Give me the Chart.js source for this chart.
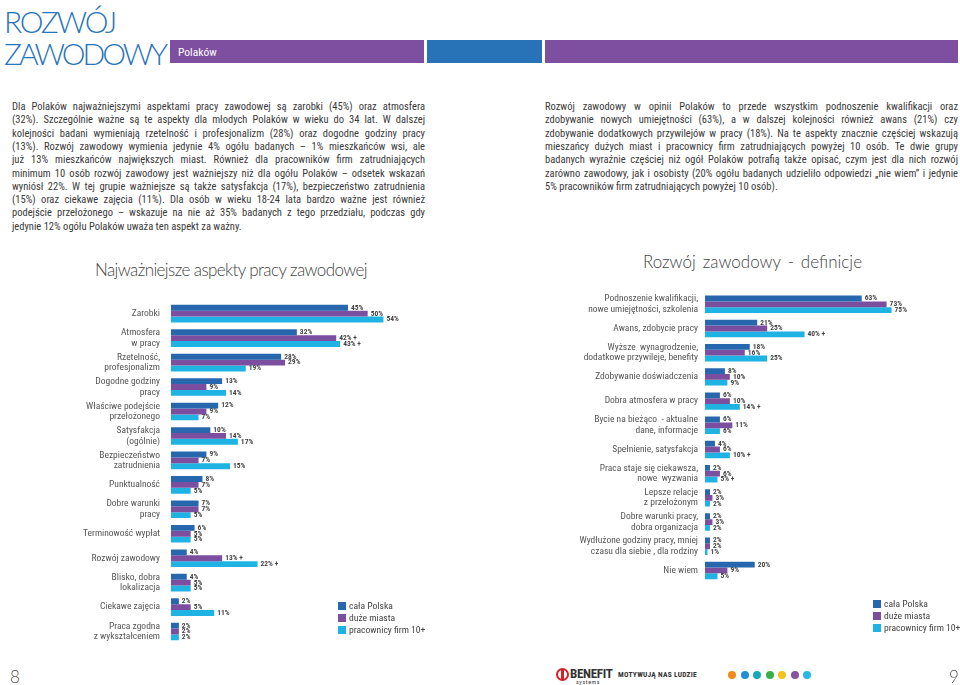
<!DOCTYPE html>
<html lang="pl">
<head>
<meta charset="utf-8">
<script src="https://cdn.jsdelivr.net/npm/chart.js@4.4.0/dist/chart.umd.min.js"></script>
<style>
  body { margin: 0; width: 960px; height: 685px; background: #fff; position: relative; overflow: hidden;
         font-family: "Liberation Sans Narrow", "Roboto Condensed", Roboto, sans-serif; color: #3a3a3a; }
  .abs { position: absolute; white-space: nowrap; }
  .tytul { color: #2a74b9; font-family: Lato, Roboto, sans-serif; font-weight: 300; font-size: 30px; line-height: 30px; left: 4px; }
  .pasek { position: absolute; top: 40px; height: 23px; }
  .akapit div { position: absolute; white-space: nowrap; font-size: 10.5px; line-height: 13.3px; }
  .tytulWykresu { position: absolute; font-family: Lato, Roboto, sans-serif; font-weight: 300; font-size: 17px; color: #444; white-space: nowrap; }
  .legenda { position: absolute; font-size: 9.6px; color: #444; }
  .legenda div { position: relative; height: 12px; line-height: 12px; padding-left: 11px; white-space: nowrap; }
  .legenda span { position: absolute; left: 0; top: 2px; width: 8px; height: 8px; }
  canvas { position: absolute; }
  .strona { position: absolute; top: 666px; font-family: Lato, Roboto, sans-serif; font-weight: 300; font-size: 17px; color: #555; }
</style>
</head>
<body>

<div class="abs tytul" id="t1" style="top:6px">ROZWÓJ</div>
<div class="abs tytul" id="t2" style="top:38px">ZAWODOWY</div>
<div class="pasek" style="left:170px; width:254px; background:#7e4fa0;"></div>
<div class="abs" style="left:178px; top:45px; font-size:11.5px; color:#fff; line-height:14px;">Polaków</div>
<div class="pasek" style="left:427px; width:115px; background:#2873b8;"></div>
<div class="pasek" style="left:545px; width:413px; background:#7e4fa0;"></div>

<div class="akapit" id="akapitLewy" style="position:absolute; left:12px; top:100px;" data-szer="413">
  <div class="j">Dla Polaków najważniejszymi aspektami pracy zawodowej są zarobki (45%) oraz atmosfera</div>
  <div class="j">(32%). Szczególnie ważne są te aspekty dla młodych Polaków w wieku do 34 lat. W dalszej</div>
  <div class="j">kolejności badani wymieniają rzetelność i profesjonalizm (28%) oraz dogodne godziny pracy</div>
  <div class="j">(13%). Rozwój zawodowy wymienia jedynie 4% ogółu badanych – 1% mieszkańców wsi, ale</div>
  <div class="j">już 13% mieszkańców największych miast. Również dla pracowników firm zatrudniających</div>
  <div class="j">minimum 10 osób rozwój zawodowy jest ważniejszy niż dla ogółu Polaków – odsetek wskazań</div>
  <div class="j">wyniósł 22%. W tej grupie ważniejsze są także satysfakcja (17%), bezpieczeństwo zatrudnienia</div>
  <div class="j">(15%) oraz ciekawe zajęcia (11%). Dla osób w wieku 18-24 lata bardzo ważne jest również</div>
  <div class="j">podejście przełożonego – wskazuje na nie aż 35% badanych z tego przedziału, podczas gdy</div>
  <div>jedynie 12% ogółu Polaków uważa ten aspekt za ważny.</div>
</div>

<div class="akapit" id="akapitPrawy" style="position:absolute; left:545px; top:100px;" data-szer="413">
  <div class="j">Rozwój zawodowy w opinii Polaków to przede wszystkim podnoszenie kwalifikacji oraz</div>
  <div class="j">zdobywanie nowych umiejętności (63%), a w dalszej kolejności również awans (21%) czy</div>
  <div class="j">zdobywanie dodatkowych przywilejów w pracy (18%). Na te aspekty znacznie częściej wskazują</div>
  <div class="j">mieszańcy dużych miast i pracownicy firm zatrudniających powyżej 10 osób. Te dwie grupy</div>
  <div class="j">badanych wyraźnie częściej niż ogół Polaków potrafią także opisać, czym jest dla nich rozwój</div>
  <div class="j">zarówno zawodowy, jak i osobisty (20% ogółu badanych udzieliło odpowiedzi „nie wiem” i jedynie</div>
  <div>5% pracowników firm zatrudniających powyżej 10 osób).</div>
</div>

<div class="tytulWykresu" id="tw1" style="left:95px; top:259px;">Najważniejsze aspekty pracy zawodowej</div>
<div class="tytulWykresu" id="tw2" style="left:643px; top:251px;">Rozwój zawodowy - definicje</div>

<canvas id="wykresAspekty" width="480" height="380" style="left:0; top:280px;"></canvas>
<canvas id="wykresDefinicje" width="430" height="320" style="left:530px; top:280px;"></canvas>

<div class="legenda" style="left:338px; top:600px;">
  <div><span style="background:#2767ad"></span>cała Polska</div>
  <div><span style="background:#7c4e9f"></span>duże miasta</div>
  <div><span style="background:#1fb3e3"></span>pracownicy firm 10+</div>
</div>
<div class="legenda" style="left:873px; top:598px;">
  <div><span style="background:#2767ad"></span>cała Polska</div>
  <div><span style="background:#7c4e9f"></span>duże miasta</div>
  <div><span style="background:#1fb3e3"></span>pracownicy firm 10+</div>
</div>

<div class="strona" style="left:10px;">8</div>
<div class="strona" style="left:949px;">9</div>

<!-- stopka z logo -->
<div class="abs" style="left:556px; top:668px; width:13px; height:13px; border:2px solid #d42027; border-radius:50%; box-sizing:border-box;"></div>
<div class="abs" style="left:561px; top:670px; width:3px; height:9px; background:#d42027;"></div>
<div class="abs" style="left:570px; top:666px; font-weight:bold; font-size:13px; color:#333; letter-spacing:-0.3px;">BENEFIT</div>
<div class="abs" style="left:576px; top:678px; font-size:6px; color:#333; letter-spacing:0.6px;">systems</div>
<div class="abs" id="haslo" style="left:618px; top:670px; font-weight:bold; font-size:7.5px; color:#333;">MOTYWUJĄ NAS LUDZIE</div>
<div id="kropki" class="abs" style="left:728px; top:671px;"></div>

<script>
// dane: najważniejsze aspekty pracy zawodowej
const kategorieAspekty = ['Zarobki', 'Atmosfera\nw pracy', 'Rzetelność,\nprofesjonalizm', 'Dogodne godziny\npracy',
    'Właściwe podejście\nprzełożonego', 'Satysfakcja\n(ogólnie)', 'Bezpieczeństwo\nzatrudnienia', 'Punktualność',
    'Dobre warunki\npracy', 'Terminowość wypłat', 'Rozwój zawodowy', 'Blisko, dobra\nlokalizacja',
    'Ciekawe zajęcia', 'Praca zgodna\nz wykształceniem'];
const aspektyPolska = [45, 32, 28, 13, 12, 10, 9, 8, 7, 6, 4, 4, 2, 2];
const aspektyMiasta = [50, 42, 29, 9, 9, 14, 7, 7, 7, 5, 13, 5, 5, 2];
const aspektyFirmy  = [54, 43, 19, 14, 7, 17, 15, 5, 5, 5, 22, 5, 11, 2];
const aspektyPlusMiasta = [0, 1, 0, 0, 0, 0, 0, 0, 0, 0, 1, 0, 0, 0];
const aspektyPlusFirmy  = [0, 1, 0, 0, 0, 0, 0, 0, 0, 0, 1, 0, 0, 0];

// dane: rozwój zawodowy - definicje
const kategorieDefinicje = ['Podnoszenie kwalifikacji,\nnowe umiejętności, szkolenia', 'Awans, zdobycie pracy',
    'Wyższe  wynagrodzenie,\ndodatkowe przywileje, benefity', 'Zdobywanie doświadczenia', 'Dobra atmosfera w pracy',
    'Bycie na bieżąco  - aktualne\ndane, informacje', 'Spełnienie, satysfakcja', 'Praca staje się ciekawsza,\nnowe  wyzwania',
    'Lepsze relacje\nz przełożonym', 'Dobre warunki pracy,\ndobra organizacja',
    'Wydłużone godziny pracy, mniej\nczasu dla siebie , dla rodziny', 'Nie wiem'];
const definicjePolska = [63, 21, 18, 8, 6, 6, 4, 2, 2, 2, 2, 20];
const definicjeMiasta = [73, 25, 16, 10, 10, 11, 6, 6, 3, 3, 2, 9];
const definicjeFirmy  = [75, 40, 25, 9, 14, 6, 10, 5, 2, 2, 1, 5];
const definicjePlusFirmy = [0, 1, 0, 0, 1, 0, 1, 1, 0, 0, 0, 0];

const serie = ['cała Polska', 'duże miasta', 'pracownicy firm 10+'];
const kolory = ['#2767ad', '#7c4e9f', '#1fb3e3'];
const kolorKropek = ['#f08a1c', '#1f8fd6', '#18a9b8', '#3aae49', '#f4c21a', '#8a4f9f', '#29b7e6'];

const czcionka = '"Liberation Sans Narrow", "Roboto Condensed", Roboto, sans-serif';

// rozciąga linię tekstu do zadanej szerokości (jak justowanie)
function wyrownaj(el, szer, tylkoLitery) {
    el.style.display = 'inline-block';
    const w = el.getBoundingClientRect().width;
    const tekst = el.textContent.replace(/\s+/g, ' ').trim();
    const spacje = (tekst.match(/ /g) || []).length;
    if (w > szer || tylkoLitery) el.style.letterSpacing = ((szer - w) / tekst.length) + 'px';
    else if (spacje) el.style.wordSpacing = ((szer - w) / spacje) + 'px';
}

document.querySelectorAll('.akapit').forEach(ak => {
    const szer = +ak.dataset.szer;
    ak.querySelectorAll('div').forEach((linia, i) => {
        linia.style.top = (i * 13.3) + 'px';
        if (linia.classList.contains('j')) wyrownaj(linia, szer);
    });
});
wyrownaj(document.getElementById('t1'), 111);
wyrownaj(document.getElementById('t2'), 161);
wyrownaj(document.getElementById('tw1'), 272);
wyrownaj(document.getElementById('tw2'), 219);
wyrownaj(document.getElementById('haslo'), 79, true);

const kropki = document.getElementById('kropki');
kolorKropek.forEach((k, i) => {
    const d = document.createElement('div');
    d.style.cssText = `position:absolute; left:${i * 12.5}px; top:0; width:8px; height:8px; border-radius:50%; background:${k}`;
    kropki.appendChild(d);
});

// etykiety wartości przy słupkach
const etykietyPlugin = {
    id: 'etykiety',
    afterDatasetsDraw(chart) {
        const ctx = chart.ctx;
        ctx.save();
        ctx.font = 'bold 7.5px ' + czcionka;
        ctx.fillStyle = '#444';
        ctx.textBaseline = 'middle';
        chart.data.datasets.forEach((ds, i) => {
            chart.getDatasetMeta(i).data.forEach((bar, j) => {
                const plus = ds.plus && ds.plus[j] ? ' +' : '';
                ctx.fillText(ds.data[j] + '%' + plus, bar.x + 3, bar.y);
            });
        });
        ctx.restore();
    }
};

function generarWykres(id, kategorie, dane, plusy, maks, szerOsi, odstep, padding) {
    const ctx = document.getElementById(id).getContext('2d');
    return new Chart(ctx, {
        type: 'bar',
        data: {
            labels: kategorie.map(k => k.split('\n')),
            datasets: dane.map((d, i) => ({
                label: serie[i],
                data: d,
                plus: plusy[i],
                backgroundColor: kolory[i],
                borderWidth: 0,
                categoryPercentage: 0.72,
                barPercentage: 1.0
            }))
        },
        options: {
            indexAxis: 'y',
            responsive: false,
            animation: false,
            layout: { padding: padding },
            scales: {
                x: { display: false, min: 0, max: maks },
                y: {
                    grid: { display: false, drawTicks: false },
                    border: { display: false },
                    afterFit: s => { s.width = szerOsi; },
                    ticks: {
                        padding: odstep,
                        color: '#555',
                        font: { family: czcionka, size: 9.5, lineHeight: 1.1 }
                    }
                }
            },
            plugins: {
                legend: { display: false },
                tooltip: { enabled: false }
            }
        },
        plugins: [etykietyPlugin]
    });
}

generarWykres('wykresAspekty', kategorieAspekty,
    [aspektyPolska, aspektyMiasta, aspektyFirmy],
    [null, aspektyPlusMiasta, aspektyPlusFirmy],
    60, 171, 11, { left: 0, right: 73, top: 13, bottom: 14 });

generarWykres('wykresDefinicje', kategorieDefinicje,
    [definicjePolska, definicjeMiasta, definicjeFirmy],
    [null, null, definicjePlusFirmy],
    80, 175, 7, { left: 0, right: 56, top: 6, bottom: 11 });
</script>
</body>
</html>
